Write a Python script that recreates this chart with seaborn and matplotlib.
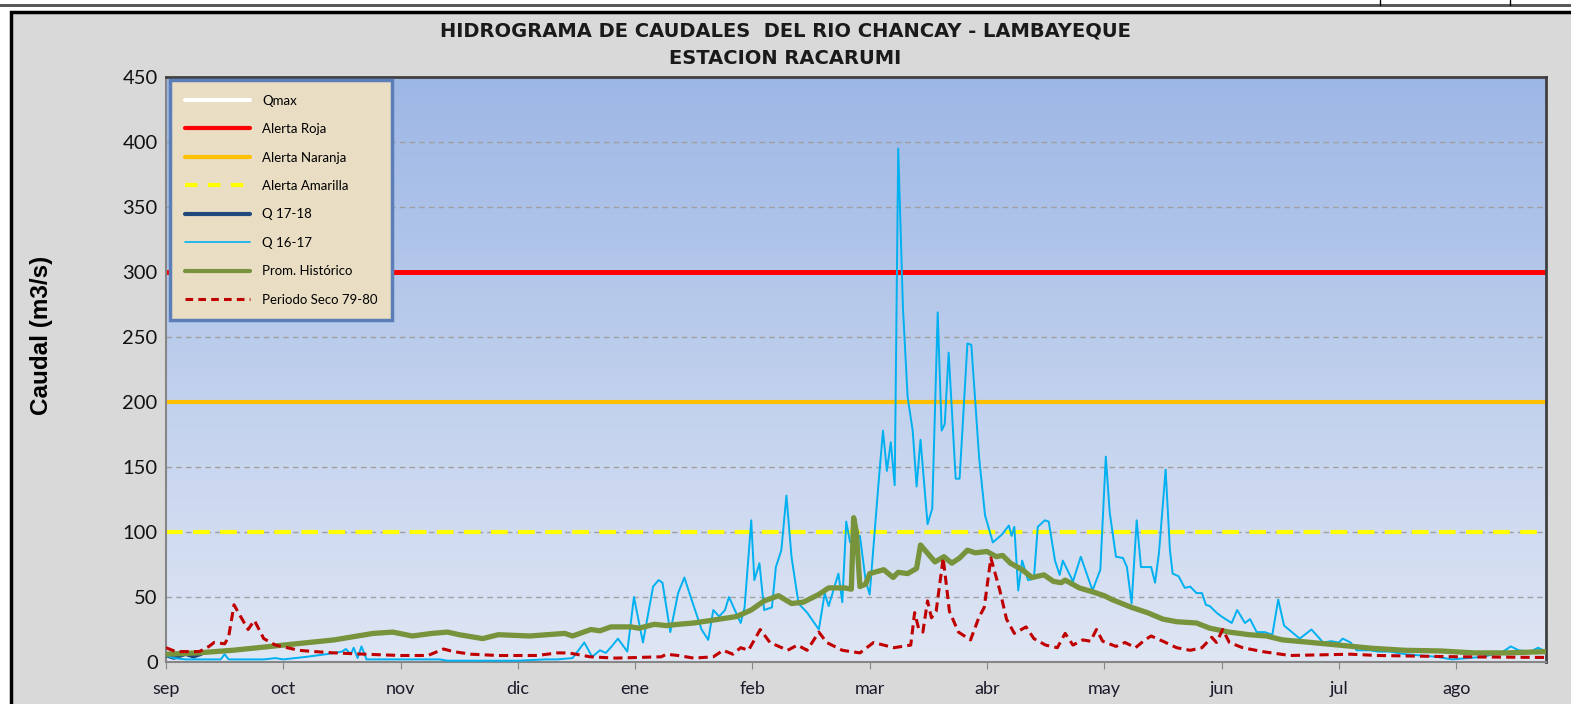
import matplotlib.pyplot as plt
import numpy as np
import seaborn as sns
from matplotlib.lines import Line2D
from matplotlib.patches import Rectangle

# days since 1 Sep, values in m3/s
q1617_day = [0, 2, 5, 10, 14, 15, 16, 25, 28, 30, 36, 41, 43, 45, 46, 47.3, 48, 49, 50, 51.3, 53, 60, 70, 72,
             80, 90, 97, 100, 104, 107, 109, 111, 112.5, 114, 115.6, 118, 119.7, 122, 124.6, 126, 127, 129,
             131, 132.6, 134, 137, 138.7, 140, 141.5, 143, 144, 147, 148, 149.7, 150.5, 151.8, 153, 155, 156,
             157.4, 158.7, 160, 161.8, 164, 167, 168.5, 169.5, 172, 173, 174, 175, 176, 177.5, 179, 180,
             182.3, 183.4, 184.4, 185.4, 186.4, 187.3, 188.5, 189.7, 191, 192, 193, 194.8, 196, 197.4, 198.4,
             199.2, 200.2, 202, 203, 205, 206, 208, 209.5, 211.5, 213.8, 215.6, 216.3, 217, 218, 219, 220.5,
             222, 223, 224.8, 225.8, 227.4, 228.6, 229.4, 232, 234, 237, 239, 240.4, 241.4, 243, 244.8, 245.8,
             247, 248.3, 249.4, 252, 253, 254, 255.7, 256.8, 257.5, 259, 260.6, 262, 263.6, 265, 266, 267,
             268.7, 270, 272.6, 274, 276, 277.3, 279, 281, 283, 284.5, 286, 288, 290, 293, 296, 298, 300,
             301, 303, 304.6, 308, 310, 313, 317, 321, 325, 329, 333, 337, 342, 344, 346, 349, 351, 353]
q1617_val = [5, 3, 2, 2, 2, 6, 2, 2, 3, 2, 4, 6, 7, 8, 10, 6, 11, 3, 12, 2, 2, 2, 2, 1,
             1, 1, 2, 2, 3, 15, 4, 9, 7, 12, 18, 8, 50, 15, 58, 63, 61, 23,
             53, 65, 52, 25, 17, 40, 35, 40, 50, 30, 42, 109, 63, 76, 40, 42, 73,
             86, 128, 81, 45, 38, 25, 53, 43, 68, 46, 108, 92, 96, 97, 62, 52,
             139, 178, 147, 169, 136, 395, 273, 204, 178, 135, 171, 106, 118, 269, 178,
             183, 238, 141, 141, 245, 244, 157, 113, 92, 98, 105, 97, 104, 55, 78, 63,
             64, 104, 109, 108, 78, 67, 78, 62, 81, 55, 71, 158, 115, 81, 80, 73,
             45, 109, 73, 73, 61, 84, 148, 86, 68, 66, 57, 58, 53, 53, 44, 43,
             38, 35, 30, 40, 30, 33, 23, 23, 21, 48, 28, 23, 18, 25, 15, 16, 15,
             18, 15, 9, 9, 8, 8, 6, 5, 4, 2, 3, 4, 8, 12, 9, 8, 11, 8]

q1718_day = [0, 1, 2, 3, 4, 5, 6, 7, 8, 9]
q1718_val = [5, 4, 3, 4, 5, 6, 5, 4, 5, 6]

prom_day = [0, 8, 17, 30, 43, 53, 58, 63, 68, 72, 75, 81, 85, 93, 102, 104, 108.7, 111, 113.8, 119, 121,
            124.9, 128, 131, 135, 139.5, 143.8, 146, 149.7, 153, 156.7, 160, 163, 167, 169.5, 173.6, 175.3,
            175.9, 176.6, 177.5, 179, 180, 183.6, 186, 187.3, 189.7, 192, 193, 196.7, 199, 201, 203, 205,
            207, 210, 212.4, 214, 216, 219, 221.5, 224.6, 227, 229, 230, 233.6, 237, 240, 242, 247, 251,
            255, 258.5, 263.6, 267, 272, 277, 281.5, 285.6, 293, 300, 308.7, 317, 326, 334.6, 343, 353]
prom_val = [6, 7, 9, 13, 17, 22, 23, 20, 22, 23, 21, 18, 21, 20, 22, 20, 25, 24, 27, 27, 26,
            29, 28, 29, 30, 32, 34, 35, 40, 47, 51, 45, 46, 52, 57, 57, 56,
            111, 100, 58, 60, 68, 71, 65, 69, 68, 72, 90, 77, 81, 76, 80, 86,
            84, 85, 81, 82, 76, 71, 65, 67, 62, 61, 63, 57, 54, 51, 48, 42, 38,
            33, 31, 30, 26, 23, 21, 20, 17, 15, 13, 10.5, 9, 8.5, 7, 7, 8]

seco_day = [0, 2.5, 8.5, 11, 12.3, 15, 16, 17.4, 18.7, 21, 22.6, 25, 28, 34, 38, 43, 51, 60, 67, 71, 73.5,
            78, 85, 95, 100, 103, 108.5, 115, 126.7, 128, 131, 135, 140, 142.5, 145, 147, 149, 152, 154.5,
            159, 161.5, 164, 167, 169, 173, 177.5, 181, 186.2, 190.5, 191.5, 192.5, 193.6, 194.8, 195.8,
            197, 198.8, 200.4, 202.7, 205.8, 207.9, 209.3, 211, 213.3, 215, 217, 220, 222, 225, 228, 230,
            232, 234.5, 236.5, 238, 239.6, 243, 245.3, 248, 250.4, 252, 255, 258.5, 262, 265, 267.5,
            268.7, 270.3, 272, 275.4, 280.5, 287.5, 303, 310, 331, 353]
seco_val = [11, 8, 8, 12, 15, 14, 19, 44, 37, 25, 32, 18, 13, 9, 8, 7, 6, 5, 5, 10, 8,
            6, 5, 5, 7, 7, 4, 3, 4, 6, 5, 3, 4, 9, 6, 11, 9, 25, 15,
            9, 13, 9, 23, 15, 9, 7, 15, 11, 13, 38, 26, 23, 47, 34,
            39, 80, 39, 23, 17, 34, 42, 80, 55, 33, 22, 27, 18, 13, 11, 22,
            13, 17, 16, 25, 16, 12, 15, 11, 17, 20, 16, 11, 9, 11, 19,
            15, 25, 15, 11, 8, 5, 6, 5, 4, 3.5]

alerta_roja = 300
alerta_naranja = 200
alerta_amarilla = 100
month_days = [0, 30, 60, 90, 120, 150, 180, 210, 240, 270, 300, 330]
month_labels = ['sep', 'oct', 'nov', 'dic', 'ene', 'feb', 'mar', 'abr', 'may', 'jun', 'jul', 'ago']

sns.set_style("white")
plt.rcParams['font.family'] = ['Lato', 'DejaVu Sans']
plt.rcParams['text.color'] = 'black'

W, H = 1571, 704
fig = plt.figure(figsize=(W / 100, H / 100), dpi=100)
fig.patch.set_facecolor('white')

# spreadsheet strip and chart frame (behind the axes)
fig.add_artist(Rectangle((0, 1 - 7 / H), 1, 3 / H, transform=fig.transFigure, color='#5a5a5a', lw=0,
                         zorder=-5))
for xv in (1380, 1510):
    fig.add_artist(Line2D([xv / W, xv / W], [1, 1 - 5 / H], transform=fig.transFigure, color='black',
                          lw=1, zorder=-5))
fig.add_artist(Rectangle((11 / W, -0.01), 1, 1 - 12 / H + 0.01, transform=fig.transFigure,
                         facecolor='#d9d9d9', edgecolor='black', lw=2.5, zorder=-10))

ax = fig.add_axes([166 / W, 1 - 662 / H, 1380 / W, 585 / H])

grad = np.linspace(0, 1, 256).reshape(-1, 1)
top_c = np.array([157, 183, 229]) / 255
bot_c = np.array([223, 230, 244]) / 255
img = top_c * (1 - grad[..., None]) + bot_c * grad[..., None]
ax.imshow(img, extent=[0, 353, 0, 450], aspect='auto', zorder=0, origin='upper')
ax.set_xlim(0, 353)
ax.set_ylim(0, 450)

for yv in range(50, 451, 50):
    ax.axhline(yv, color='#a0a0a0', lw=1, dashes=(4, 3), zorder=1)

ax.axhline(alerta_roja, color='#ff0000', lw=3.6, zorder=2)
ax.axhline(alerta_naranja, color='#ffc000', lw=3, zorder=2)
ax.axhline(alerta_amarilla, color='#ffff00', lw=3, dashes=(4, 2.5), zorder=2)

sns.lineplot(x=q1718_day, y=q1718_val, ax=ax, color='#1f497d', linewidth=2.5, zorder=3)
sns.lineplot(x=q1617_day, y=q1617_val, ax=ax, color='#00b0f0', linewidth=1.4, zorder=4)
sns.lineplot(x=prom_day, y=prom_val, ax=ax, color='#77933c', linewidth=3.8, zorder=5)
sns.lineplot(x=seco_day, y=seco_val, ax=ax, color='#c00000', linewidth=2.2, zorder=6)
ax.get_lines()[-1].set_dashes((3, 1.7))

handles = [
    Line2D([], [], color='white', lw=3),
    Line2D([], [], color='#ff0000', lw=3),
    Line2D([], [], color='#ffc000', lw=3),
    Line2D([], [], color='#ffff00', lw=3, dashes=(3, 2.5)),
    Line2D([], [], color='#1f497d', lw=3),
    Line2D([], [], color='#00b0f0', lw=1.2),
    Line2D([], [], color='#77933c', lw=3),
    Line2D([], [], color='#c00000', lw=2.2, dashes=(2.5, 1.7)),
]
labels = ['Qmax', 'Alerta Roja', 'Alerta Naranja', 'Alerta Amarilla', 'Q 17-18', 'Q 16-17',
          'Prom. Histórico', 'Periodo Seco 79-80']
leg = ax.legend(handles, labels, loc='upper left', bbox_to_anchor=(4 / 1380, 1 - 3 / 585),
                borderaxespad=0, fontsize=9.5, labelspacing=1.25, handlelength=5.0,
                handletextpad=0.9, borderpad=1.1, frameon=True, fancybox=False,
                facecolor='#e9dec4', edgecolor='#5b7db8', framealpha=1)
leg.get_frame().set_linewidth(2.5)
leg.set_zorder(10)

ax.set_xticks(month_days)
ax.set_xticklabels(month_labels)
ax.set_yticks(range(0, 451, 50))
ax.tick_params(axis='x', length=5, color='#868686', pad=9, labelsize=13, labelcolor='#1a1a2a',
               bottom=True, direction='out')
ax.tick_params(axis='y', length=0, pad=6, labelsize=14.5, labelcolor='#111111')

for side in ('left', 'bottom'):
    ax.spines[side].set_color('#868686')
    ax.spines[side].set_linewidth(1.5)
for side in ('top', 'right'):
    ax.spines[side].set_color('#404040')
    ax.spines[side].set_linewidth(2)

ax.set_xlabel('')
ax.set_ylabel('')
fig.text(42 / W, 1 - 335 / H, 'Caudal (m3/s)', rotation=90, ha='center', va='center',
         fontsize=17.5, fontweight='bold', family=['Liberation Sans', 'DejaVu Sans'], color='black')
title_font = ['Liberation Sans Narrow', 'DejaVu Sans']
fig.text(785 / W, 1 - 31 / H, 'HIDROGRAMA DE CAUDALES  DEL RIO CHANCAY - LAMBAYEQUE', ha='center',
         va='center', fontsize=14, fontweight='bold', family=title_font, color='#1a1a1a')
fig.text(785 / W, 1 - 58 / H, 'ESTACION RACARUMI', ha='center', va='center', fontsize=14,
         fontweight='bold', family=title_font, color='#1a1a1a')

fig.savefig('out.png', dpi=100)
